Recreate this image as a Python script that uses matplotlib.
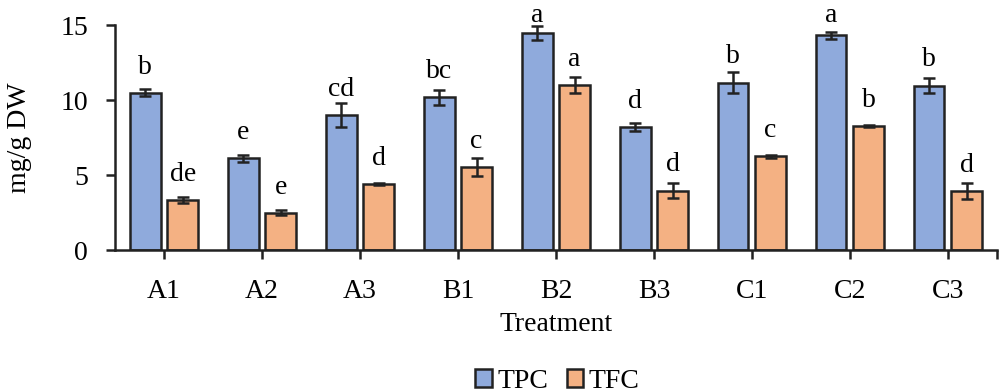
import matplotlib
matplotlib.use('Agg')
import matplotlib.pyplot as plt
import numpy as np

treatments = ['A1', 'A2', 'A3', 'B1', 'B2', 'B3', 'C1', 'C2', 'C3']
tpc = [10.5, 6.13, 8.98, 10.19, 14.45, 8.2, 11.17, 14.31, 10.97]
tpc_err = [0.22, 0.24, 0.8, 0.49, 0.47, 0.28, 0.68, 0.22, 0.48]
tfc = [3.36, 2.5, 4.39, 5.53, 10.99, 3.97, 6.24, 8.25, 3.95]
tfc_err = [0.2, 0.15, 0.05, 0.6, 0.55, 0.49, 0.07, 0.07, 0.52]
tpc_letters = ['b', 'e', 'cd', 'bc', 'a', 'd', 'b', 'a', 'b']
tfc_letters = ['de', 'e', 'd', 'c', 'a', 'd', 'c', 'b', 'd']

plt.rcParams['font.family'] = ['Liberation Serif', 'DejaVu Serif']
fs = 20

fig = plt.figure(figsize=(10.01, 3.92), dpi=100)
ax = fig.add_axes([0.1149, 0.362, 0.881, 0.574])

x = np.arange(len(treatments))
w = 0.31
off = 0.19
ek = dict(ecolor='#222222', elinewidth=1.8, capsize=4, capthick=1.8)

b1 = ax.bar(x - off, tpc, w, yerr=tpc_err, color='#8FAADC', edgecolor='#222222',
            linewidth=1.8, error_kw=ek, label='TPC')
b2 = ax.bar(x + off, tfc, w, yerr=tfc_err, color='#F4B183', edgecolor='#222222',
            linewidth=1.8, error_kw=ek, label='TFC')

# letters sit a fixed distance above the bar, but are kept inside the figure top
def put_letters(xs, vals, letters):
    for xi, v, t in zip(xs, vals, letters):
        ypos = min(v + 1.27, 15.2)
        ax.text(xi, ypos, t, ha='center', va='baseline', fontsize=fs, clip_on=False)

put_letters(x - off, tpc, tpc_letters)
put_letters(x + off, tfc, tfc_letters)

ax.set_xlim(-0.5, len(treatments) - 0.5)
ax.set_ylim(0, 15)
ax.set_yticks([0, 5, 10, 15])
ax.set_xticks(x)
ax.set_xticklabels(treatments)
ax.set_xticks([len(treatments) - 0.5], minor=True)

for s in ['top', 'right']:
    ax.spines[s].set_visible(False)
for s in ['left', 'bottom']:
    ax.spines[s].set_linewidth(1.8)
    ax.spines[s].set_color('#222222')
ax.tick_params(axis='both', which='both', length=6.5, width=1.8, color='#222222', labelsize=fs)
ax.tick_params(axis='x', pad=14)
ax.tick_params(axis='y', pad=13)

ax.set_xlabel('Treatment', fontsize=fs, labelpad=6)
ax.set_ylabel('mg/g DW', fontsize=fs, labelpad=20)

fig.legend(handles=[b1, b2], loc='center', bbox_to_anchor=(0.557, 0.028), ncol=2,
           frameon=False, fontsize=fs, handlelength=0.6, handleheight=0.6,
           handletextpad=0.2, columnspacing=0.65, borderpad=0.1)

fig.savefig('out.png', dpi=100)
